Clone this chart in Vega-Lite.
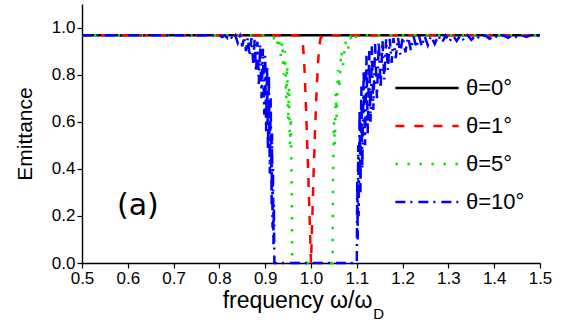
{
  "$schema": "https://vega.github.io/schema/vega-lite/v6.json",
  "width": 458,
  "height": 259,
  "autosize": {"type": "none"},
  "padding": {"left": 82, "top": 4, "right": 25, "bottom": 61},
  "background": "white",
  "config": {
    "view": {"stroke": null},
    "font": "Liberation Sans",
    "axis": {
      "domainColor": "black", "domainWidth": 1.4, "tickColor": "black", "tickWidth": 1.2,
      "labelColor": "black", "labelFont": "Liberation Sans", "labelFontSize": 17,
      "titleColor": "black", "titleFont": "Liberation Sans", "titleFontWeight": "normal",
      "grid": false
    },
    "legend": {
      "orient": "none", "legendX": 312, "legendY": 71, "title": null,
      "symbolType": "stroke", "symbolSize": 4000, "symbolStrokeWidth": 2.5,
      "labelFontSize": 22, "labelFont": "Liberation Sans", "labelColor": "black",
      "labelOffset": 6, "rowPadding": 12, "gridAlign": "all", "clipHeight": 26
    }
  },
  "datasets": {
    "curves": [
      {"t": "θ=0°", "f": 0.5, "e": 0.967}, {"t": "θ=0°", "f": 1.5, "e": 0.967},

      {"t": "θ=1°", "f": 0.5, "e": 0.967}, {"t": "θ=1°", "f": 0.97, "e": 0.967},
      {"t": "θ=1°", "f": 0.978, "e": 0.962}, {"t": "θ=1°", "f": 0.982, "e": 0.94},
      {"t": "θ=1°", "f": 0.985, "e": 0.86}, {"t": "θ=1°", "f": 0.988, "e": 0.72},
      {"t": "θ=1°", "f": 0.991, "e": 0.55}, {"t": "θ=1°", "f": 0.994, "e": 0.38},
      {"t": "θ=1°", "f": 0.997, "e": 0.19}, {"t": "θ=1°", "f": 1.0, "e": 0.0},
      {"t": "θ=1°", "f": 1.003, "e": 0.2}, {"t": "θ=1°", "f": 1.006, "e": 0.4},
      {"t": "θ=1°", "f": 1.009, "e": 0.57}, {"t": "θ=1°", "f": 1.012, "e": 0.72},
      {"t": "θ=1°", "f": 1.015, "e": 0.84}, {"t": "θ=1°", "f": 1.018, "e": 0.92},
      {"t": "θ=1°", "f": 1.021, "e": 0.955}, {"t": "θ=1°", "f": 1.026, "e": 0.967},
      {"t": "θ=1°", "f": 1.5, "e": 0.967},

      {"t": "θ=5°", "f": 0.5, "e": 0.967}, {"t": "θ=5°", "f": 0.91, "e": 0.967},
      {"t": "θ=5°", "f": 0.918, "e": 0.955}, {"t": "θ=5°", "f": 0.922, "e": 0.965},
      {"t": "θ=5°", "f": 0.926, "e": 0.93}, {"t": "θ=5°", "f": 0.93, "e": 0.96},
      {"t": "θ=5°", "f": 0.934, "e": 0.88}, {"t": "θ=5°", "f": 0.937, "e": 0.94},
      {"t": "θ=5°", "f": 0.94, "e": 0.8}, {"t": "θ=5°", "f": 0.943, "e": 0.9},
      {"t": "θ=5°", "f": 0.946, "e": 0.7}, {"t": "θ=5°", "f": 0.948, "e": 0.84},
      {"t": "θ=5°", "f": 0.95, "e": 0.6}, {"t": "θ=5°", "f": 0.952, "e": 0.75},
      {"t": "θ=5°", "f": 0.954, "e": 0.5}, {"t": "θ=5°", "f": 0.956, "e": 0.62},
      {"t": "θ=5°", "f": 0.958, "e": 0.3}, {"t": "θ=5°", "f": 0.959, "e": 0.0},
      {"t": "θ=5°", "f": 1.047, "e": 0.0}, {"t": "θ=5°", "f": 1.048, "e": 0.35},
      {"t": "θ=5°", "f": 1.05, "e": 0.6}, {"t": "θ=5°", "f": 1.052, "e": 0.5},
      {"t": "θ=5°", "f": 1.054, "e": 0.72}, {"t": "θ=5°", "f": 1.056, "e": 0.62},
      {"t": "θ=5°", "f": 1.059, "e": 0.82}, {"t": "θ=5°", "f": 1.062, "e": 0.74},
      {"t": "θ=5°", "f": 1.066, "e": 0.9}, {"t": "θ=5°", "f": 1.07, "e": 0.84},
      {"t": "θ=5°", "f": 1.075, "e": 0.94}, {"t": "θ=5°", "f": 1.08, "e": 0.9},
      {"t": "θ=5°", "f": 1.086, "e": 0.96}, {"t": "θ=5°", "f": 1.092, "e": 0.935},
      {"t": "θ=5°", "f": 1.1, "e": 0.967}, {"t": "θ=5°", "f": 1.5, "e": 0.967},

      {"t": "θ=10°", "f": 0.5, "e": 0.967}, {"t": "θ=10°", "f": 0.8, "e": 0.967},
      {"t": "θ=10°", "f": 0.806, "e": 0.96}, {"t": "θ=10°", "f": 0.812, "e": 0.967},
      {"t": "θ=10°", "f": 0.818, "e": 0.955}, {"t": "θ=10°", "f": 0.824, "e": 0.966},
      {"t": "θ=10°", "f": 0.83, "e": 0.945}, {"t": "θ=10°", "f": 0.835, "e": 0.965},
      {"t": "θ=10°", "f": 0.84, "e": 0.935}, {"t": "θ=10°", "f": 0.845, "e": 0.963},
      {"t": "θ=10°", "f": 0.85, "e": 0.92}, {"t": "θ=10°", "f": 0.854, "e": 0.96},
      {"t": "θ=10°", "f": 0.858, "e": 0.9}, {"t": "θ=10°", "f": 0.862, "e": 0.958},
      {"t": "θ=10°", "f": 0.866, "e": 0.88}, {"t": "θ=10°", "f": 0.87, "e": 0.955},
      {"t": "θ=10°", "f": 0.874, "e": 0.85}, {"t": "θ=10°", "f": 0.877, "e": 0.95},
      {"t": "θ=10°", "f": 0.88, "e": 0.81}, {"t": "θ=10°", "f": 0.883, "e": 0.94},
      {"t": "θ=10°", "f": 0.886, "e": 0.76}, {"t": "θ=10°", "f": 0.889, "e": 0.93},
      {"t": "θ=10°", "f": 0.892, "e": 0.7}, {"t": "θ=10°", "f": 0.895, "e": 0.91},
      {"t": "θ=10°", "f": 0.898, "e": 0.63}, {"t": "θ=10°", "f": 0.9, "e": 0.88},
      {"t": "θ=10°", "f": 0.902, "e": 0.56}, {"t": "θ=10°", "f": 0.904, "e": 0.84},
      {"t": "θ=10°", "f": 0.906, "e": 0.48}, {"t": "θ=10°", "f": 0.908, "e": 0.8},
      {"t": "θ=10°", "f": 0.91, "e": 0.38}, {"t": "θ=10°", "f": 0.912, "e": 0.7},
      {"t": "θ=10°", "f": 0.914, "e": 0.25}, {"t": "θ=10°", "f": 0.915, "e": 0.55},
      {"t": "θ=10°", "f": 0.916, "e": 0.15}, {"t": "θ=10°", "f": 0.917, "e": 0.4},
      {"t": "θ=10°", "f": 0.918, "e": 0.08}, {"t": "θ=10°", "f": 0.919, "e": 0.25},
      {"t": "θ=10°", "f": 0.92, "e": 0.0}, {"t": "θ=10°", "f": 1.1, "e": 0.0},
      {"t": "θ=10°", "f": 1.101, "e": 0.35}, {"t": "θ=10°", "f": 1.102, "e": 0.1},
      {"t": "θ=10°", "f": 1.103, "e": 0.5}, {"t": "θ=10°", "f": 1.104, "e": 0.2},
      {"t": "θ=10°", "f": 1.106, "e": 0.65}, {"t": "θ=10°", "f": 1.108, "e": 0.3},
      {"t": "θ=10°", "f": 1.11, "e": 0.75}, {"t": "θ=10°", "f": 1.112, "e": 0.4},
      {"t": "θ=10°", "f": 1.115, "e": 0.82}, {"t": "θ=10°", "f": 1.118, "e": 0.5},
      {"t": "θ=10°", "f": 1.121, "e": 0.88}, {"t": "θ=10°", "f": 1.124, "e": 0.55},
      {"t": "θ=10°", "f": 1.127, "e": 0.9}, {"t": "θ=10°", "f": 1.13, "e": 0.6},
      {"t": "θ=10°", "f": 1.133, "e": 0.92}, {"t": "θ=10°", "f": 1.136, "e": 0.65},
      {"t": "θ=10°", "f": 1.14, "e": 0.93}, {"t": "θ=10°", "f": 1.144, "e": 0.7},
      {"t": "θ=10°", "f": 1.148, "e": 0.94}, {"t": "θ=10°", "f": 1.152, "e": 0.74},
      {"t": "θ=10°", "f": 1.156, "e": 0.945}, {"t": "θ=10°", "f": 1.16, "e": 0.78},
      {"t": "θ=10°", "f": 1.164, "e": 0.95}, {"t": "θ=10°", "f": 1.168, "e": 0.82},
      {"t": "θ=10°", "f": 1.172, "e": 0.952}, {"t": "θ=10°", "f": 1.176, "e": 0.85},
      {"t": "θ=10°", "f": 1.18, "e": 0.955}, {"t": "θ=10°", "f": 1.185, "e": 0.87},
      {"t": "θ=10°", "f": 1.19, "e": 0.957}, {"t": "θ=10°", "f": 1.195, "e": 0.885},
      {"t": "θ=10°", "f": 1.2, "e": 0.96}, {"t": "θ=10°", "f": 1.206, "e": 0.895},
      {"t": "θ=10°", "f": 1.212, "e": 0.96}, {"t": "θ=10°", "f": 1.218, "e": 0.905},
      {"t": "θ=10°", "f": 1.224, "e": 0.962}, {"t": "θ=10°", "f": 1.23, "e": 0.915},
      {"t": "θ=10°", "f": 1.236, "e": 0.963}, {"t": "θ=10°", "f": 1.242, "e": 0.92},
      {"t": "θ=10°", "f": 1.248, "e": 0.964}, {"t": "θ=10°", "f": 1.255, "e": 0.925},
      {"t": "θ=10°", "f": 1.262, "e": 0.965}, {"t": "θ=10°", "f": 1.27, "e": 0.93},
      {"t": "θ=10°", "f": 1.278, "e": 0.965}, {"t": "θ=10°", "f": 1.286, "e": 0.935},
      {"t": "θ=10°", "f": 1.294, "e": 0.966}, {"t": "θ=10°", "f": 1.302, "e": 0.94},
      {"t": "θ=10°", "f": 1.31, "e": 0.966}, {"t": "θ=10°", "f": 1.318, "e": 0.943},
      {"t": "θ=10°", "f": 1.326, "e": 0.966}, {"t": "θ=10°", "f": 1.334, "e": 0.945},
      {"t": "θ=10°", "f": 1.342, "e": 0.967}, {"t": "θ=10°", "f": 1.35, "e": 0.948},
      {"t": "θ=10°", "f": 1.36, "e": 0.967}, {"t": "θ=10°", "f": 1.37, "e": 0.95},
      {"t": "θ=10°", "f": 1.38, "e": 0.967}, {"t": "θ=10°", "f": 1.39, "e": 0.952},
      {"t": "θ=10°", "f": 1.4, "e": 0.967}, {"t": "θ=10°", "f": 1.41, "e": 0.954},
      {"t": "θ=10°", "f": 1.42, "e": 0.967}, {"t": "θ=10°", "f": 1.43, "e": 0.956},
      {"t": "θ=10°", "f": 1.44, "e": 0.967}, {"t": "θ=10°", "f": 1.45, "e": 0.958},
      {"t": "θ=10°", "f": 1.46, "e": 0.967}, {"t": "θ=10°", "f": 1.47, "e": 0.96},
      {"t": "θ=10°", "f": 1.48, "e": 0.967}, {"t": "θ=10°", "f": 1.49, "e": 0.962},
      {"t": "θ=10°", "f": 1.5, "e": 0.967}
    ]
  },
  "layer": [
    {
      "data": {"name": "curves"},
      "mark": {"type": "line", "strokeWidth": 2.5, "strokeCap": "butt", "strokeJoin": "miter"},
      "encoding": {
        "x": {
          "field": "f", "type": "quantitative",
          "scale": {"domain": [0.5, 1.5], "nice": false, "zero": false},
          "axis": {
            "title": "frequency ω/ω", "titleFontSize": 23, "titlePadding": 3, "titleX": 215,
            "values": [0.5, 0.55, 0.6, 0.65, 0.7, 0.75, 0.8, 0.85, 0.9, 0.95, 1.0, 1.05, 1.1, 1.15, 1.2, 1.25, 1.3, 1.35, 1.4, 1.45, 1.5],
            "labelExpr": "round(datum.value*100)%10==0 ? format(datum.value,'.1f') : ''",
            "tickSize": {"condition": {"test": "round(datum.value*100)%10==0", "value": 5}, "value": 3},
            "labelPadding": 2, "labelFlush": false, "labelOverlap": false
          }
        },
        "y": {
          "field": "e", "type": "quantitative",
          "scale": {"domain": [0, 1.1], "nice": false},
          "axis": {
            "title": "Emittance", "titleFontSize": 21, "titlePadding": 16,
            "values": [0, 0.1, 0.2, 0.3, 0.4, 0.5, 0.6, 0.7, 0.8, 0.9, 1.0, 1.1],
            "labelExpr": "round(datum.value*10)%2==0 && datum.value<1.05 ? format(datum.value,'.1f') : ''",
            "tickSize": {"condition": {"test": "round(datum.value*10)%2==0 && datum.value<1.05", "value": 5}, "value": 3},
            "labelPadding": 2, "labelFlush": false, "labelOverlap": false
          }
        },
        "color": {
          "field": "t", "type": "nominal",
          "scale": {"domain": ["θ=0°", "θ=1°", "θ=5°", "θ=10°"], "range": ["#000000", "#ff0000", "#00e600", "#0000ff"]}
        },
        "strokeDash": {
          "field": "t", "type": "nominal",
          "scale": {"domain": ["θ=0°", "θ=1°", "θ=5°", "θ=10°"], "range": [[1, 0], [9, 10], [2.5, 9.5], [10, 5, 2, 6]]}
        }
      }
    },
    {
      "data": {"values": [{}]},
      "mark": {"type": "text", "font": "DejaVu Sans", "fontSize": 30, "color": "black"},
      "encoding": {"x": {"datum": 0.622}, "y": {"datum": 0.24}, "text": {"value": "(a)"}}
    },
    {
      "data": {"values": [{}]},
      "mark": {"type": "text", "font": "Liberation Sans", "fontSize": 15, "color": "black"},
      "encoding": {"x": {"datum": 1.148}, "y": {"datum": -0.215}, "text": {"value": "D"}}
    }
  ]
}
